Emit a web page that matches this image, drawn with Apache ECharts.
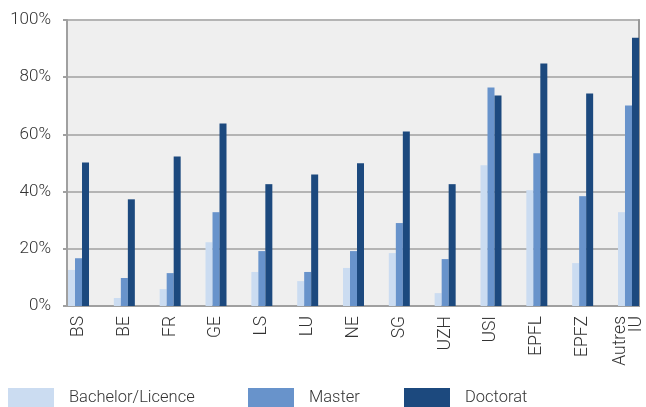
<!DOCTYPE html>
<html>
<head>
<meta charset="utf-8">
<script src="https://cdn.jsdelivr.net/npm/echarts@6/dist/echarts.min.js"></script>
<style>html,body{margin:0;padding:0;background:#fff;}#c{width:646px;height:407px;}</style>
</head>
<body>
<div id="c"></div>
<script>
const categories = ['BS','BE','FR','GE','LS','LU','NE','SG','UZH','USI','EPFL','EPFZ','Autres\nIU'];
const bachelor = [12.6, 2.8, 5.9, 22.3, 11.9, 8.7, 13.3, 18.5, 4.5, 49.2, 40.5, 15.0, 32.8];
const master   = [16.7, 9.8, 11.5, 32.8, 19.2, 11.9, 19.2, 29.0, 16.4, 76.4, 53.4, 38.4, 70.1];
const doctorat = [50.2, 37.3, 52.3, 63.8, 42.6, 46.0, 49.9, 61.0, 42.6, 73.6, 84.8, 74.3, 93.8];
const seriesNames = ['Bachelor/Licence', 'Master', 'Doctorat'];
const colors = ['#cbdcf1', '#6893cb', '#1c497e'];

const chart = echarts.init(document.getElementById('c'), null, {renderer: 'canvas'});
const font = 'Roboto';
const legendBase = (name, left) => ({
  data: [name], left: left, top: 388, itemWidth: 46, itemHeight: 20,
  icon: 'rect', selectedMode: false, padding: 0,
  textStyle: {fontFamily: font, fontSize: 16.5, fontWeight: 300, color: '#333', padding: [2, 0, 0, 10]}
});
chart.setOption({
  animation: false,
  textStyle: {fontFamily: font},
  legend: [legendBase(seriesNames[0], 8), legendBase(seriesNames[1], 248), legendBase(seriesNames[2], 404)],
  grid: [
    {left: 67, right: 7, top: 20, bottom: 101, show: true, backgroundColor: '#efefef', borderColor: '#c4c4c4', borderWidth: 2, outerBoundsMode: 'none'},
    {left: 55.6, right: -5.4, top: 20, bottom: 101, outerBoundsMode: 'none'}
  ],
  xAxis: [
    {type: 'category', gridIndex: 0, data: [''], axisLine: {lineStyle: {color: '#a0a0a0', width: 2}}, axisTick: {show: false}, axisLabel: {show: false}},
    {type: 'category', gridIndex: 1, data: categories, axisLine: {show: false}, axisTick: {show: false},
     axisLabel: {rotate: 90, margin: 10, fontFamily: font, fontSize: 17.5, fontWeight: 300, color: '#333', lineHeight: 16, interval: 0}}
  ],
  yAxis: [
    {type: 'value', gridIndex: 0, min: 0, max: 100, interval: 20,
     axisLine: {show: true, lineStyle: {color: '#a0a0a0', width: 2}},
     axisTick: {show: true, length: 4, lineStyle: {color: '#a0a0a0', width: 2}},
     splitLine: {lineStyle: {color: '#b4b4b4', width: 2}},
     axisLabel: {formatter: '{value}%', fontFamily: font, fontSize: 17, fontWeight: 300, color: '#333', margin: 16}},
    {type: 'value', gridIndex: 0, position: 'right', min: 0, max: 100, interval: 20,
     axisLine: {show: true, lineStyle: {color: '#999', width: 2}}, axisTick: {show: false}, axisLabel: {show: false}, splitLine: {show: false}},
    {type: 'value', gridIndex: 1, min: 0, max: 100, show: false}
  ],
  series: [bachelor, master, doctorat].map((d, i) => ({
    name: seriesNames[i], type: 'bar', xAxisIndex: 1, yAxisIndex: 2, data: d,
    barWidth: 7, barGap: '0%', itemStyle: {color: colors[i]}
  }))
});
</script>
</body>
</html>
